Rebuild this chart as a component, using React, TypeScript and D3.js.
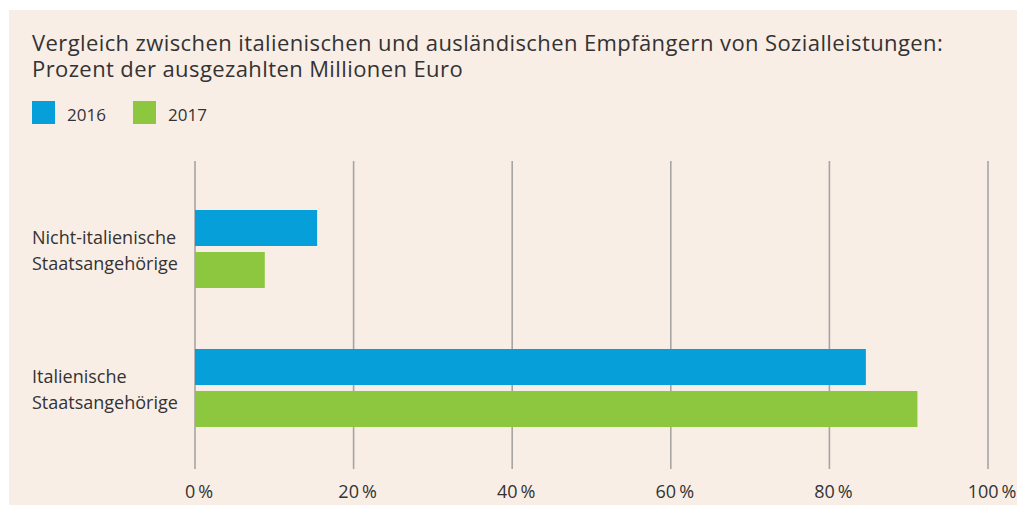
import { useEffect, useRef } from "react";
import * as d3 from "d3";

const categories = ["Nicht-italienische Staatsangehörige", "Italienische Staatsangehörige"];
const seriesNames = ["2016", "2017"];
const values2016 = [15.4, 84.6];
const values2017 = [8.8, 91.1];
const tickValues = [0, 20, 40, 60, 80, 100];
const titleLines = [
  "Vergleich zwischen italienischen und ausländischen Empfängern von Sozialleistungen:",
  "Prozent der ausgezahlten Millionen Euro",
];

const colors = ["#069fda", "#8dc63f"];

export default function App() {
  const svgRef = useRef<SVGSVGElement | null>(null);

  useEffect(() => {
    if (!svgRef.current) return;
    const W = 1017;
    const H = 506;
    const font = "'Open Sans', sans-serif";
    const textColor = "#333";

    const svg = d3.select(svgRef.current).attr("width", W).attr("height", H);
    svg.selectAll("*").remove();

    svg.append("rect")
      .attr("x", 9).attr("y", 10)
      .attr("width", W - 9).attr("height", 495)
      .attr("fill", "#f9eee6");

    // title
    const title = svg.append("text")
      .attr("font-family", font)
      .attr("font-size", 22)
      .attr("letter-spacing", 0.4)
      .attr("fill", textColor);
    titleLines.forEach((t, i) => {
      title.append("tspan").attr("x", 32).attr("y", 51 + i * 26).text(t);
    });

    // legend
    const legend = svg.append("g");
    seriesNames.forEach((name, i) => {
      const lx = 32 + i * 101;
      legend.append("rect")
        .attr("x", lx).attr("y", 101)
        .attr("width", 23).attr("height", 23)
        .attr("fill", colors[i]);
      legend.append("text")
        .attr("x", lx + 35).attr("y", 121)
        .attr("font-family", font)
        .attr("font-size", 17)
        .attr("fill", textColor)
        .text(name);
    });

    const x = d3.scaleLinear().domain([0, 100]).range([195, 988]);
    const y = d3.scaleBand<string>()
      .domain(categories)
      .range([182.2, 454.8])
      .paddingInner(0.439)
      .paddingOuter(0.2);
    const inner = d3.scaleBand<string>()
      .domain(seriesNames)
      .range([0, y.bandwidth()])
      .paddingInner(0.1429);

    // grid
    svg.append("g")
      .selectAll("line")
      .data(tickValues)
      .join("line")
      .attr("x1", d => x(d)).attr("x2", d => x(d))
      .attr("y1", 161).attr("y2", 469)
      .attr("stroke", "#a8a4a2")
      .attr("stroke-width", 1.6);

    // tick labels
    svg.append("g")
      .selectAll("text")
      .data(tickValues)
      .join("text")
      .attr("x", d => x(d) + 4)
      .attr("y", 498)
      .attr("text-anchor", "middle")
      .attr("font-family", font)
      .attr("font-size", 18)
      .attr("fill", textColor)
      .text(d => `${d}\u2009%`);

    // bars
    const series = [values2016, values2017];
    const bars = svg.append("g");
    categories.forEach((cat, ci) => {
      seriesNames.forEach((s, si) => {
        bars.append("rect")
          .attr("x", x(0))
          .attr("y", (y(cat) ?? 0) + (inner(s) ?? 0))
          .attr("width", x(series[si][ci]) - x(0))
          .attr("height", inner.bandwidth())
          .attr("fill", colors[si]);
      });
    });

    // category labels
    const labels = svg.append("g");
    categories.forEach(cat => {
      const cy = (y(cat) ?? 0) + y.bandwidth() / 2;
      const words = cat.split(" ");
      const t = labels.append("text")
        .attr("font-family", font)
        .attr("font-size", 18)
        .attr("fill", textColor);
      words.forEach((w, i) => {
        t.append("tspan").attr("x", 32).attr("y", cy - 5 + i * 26).text(w);
      });
    });
  }, []);

  return (
    <svg ref={svgRef} style={{ position: "absolute", left: 0, top: 0 }}></svg>
  );
}
